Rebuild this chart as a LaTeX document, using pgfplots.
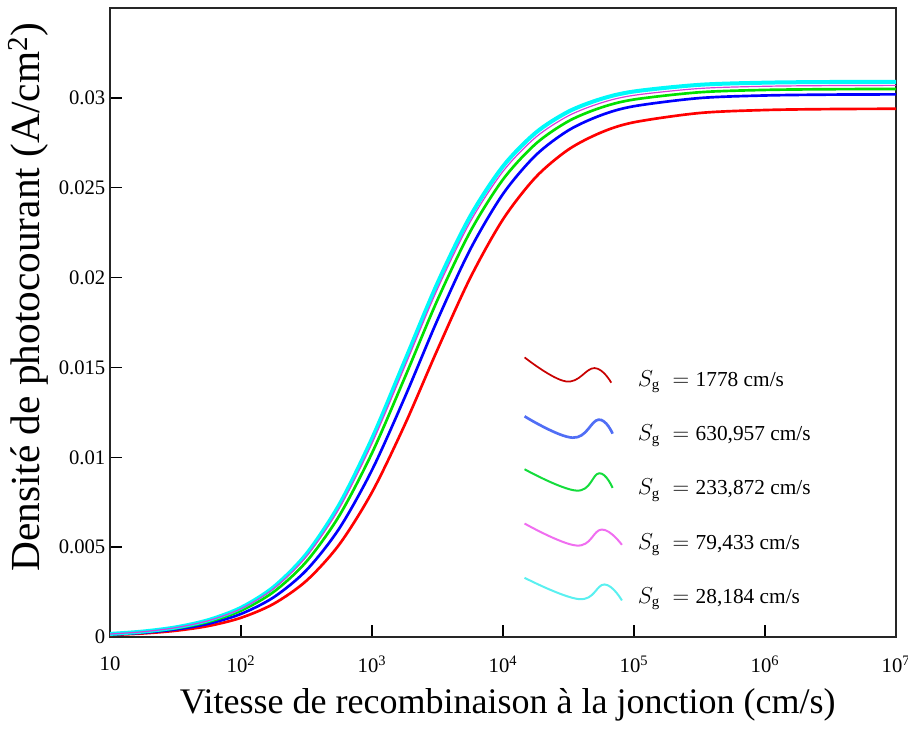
\documentclass[border=0pt]{standalone}
\usepackage{pgfplots}
\pgfplotsset{compat=1.18}
\usepackage{fontspec}
\setmainfont{Liberation Serif}

\definecolor{cRed}{RGB}{255,0,0}
\definecolor{cBlue}{RGB}{0,0,255}
\definecolor{cGreen}{RGB}{0,225,0}
\definecolor{cMag}{RGB}{215,60,215}
\definecolor{cCyan}{RGB}{0,250,250}
\definecolor{lRed}{RGB}{200,0,0}
\definecolor{lBlue}{RGB}{80,110,245}
\definecolor{lGreen}{RGB}{20,220,60}
\definecolor{lMag}{RGB}{240,110,240}
\definecolor{lCyan}{RGB}{90,240,240}

% photocurrent density vs junction recombination velocity, one column per Sg
\pgfplotstableread{
Sf        red       blue      green     mag       cyan
10        0.000111  0.000134  0.000153  0.000165  0.000171
17.78     0.000196  0.000237  0.000271  0.000292  0.000302
31.62     0.000347  0.000419  0.000479  0.000516  0.000533
56.23     0.000611  0.000736  0.000842  0.000906  0.000936
100       0.001069  0.001285  0.001466  0.001574  0.001626
177.8     0.001849  0.002212  0.002513  0.002692  0.002778
316.2     0.003134  0.003721  0.004200  0.004481  0.004617
562.3     0.005146  0.006038  0.006746  0.007156  0.007355
1000      0.008055  0.009292  0.010235  0.010772  0.011036
1778      0.011806  0.013331  0.014430  0.015045  0.015355
3162      0.015995  0.017645  0.018756  0.019368  0.019691
5623      0.019983  0.021569  0.022557  0.023100  0.023407
10000     0.023241  0.024653  0.025459  0.025907  0.026186
17783     0.025587  0.026808  0.027444  0.027807  0.028060
31623     0.027127  0.028194  0.028703  0.029003  0.029236
56234     0.028077  0.029038  0.029463  0.029722  0.029941
100000    0.028641  0.029535  0.029908  0.030142  0.030354
316228    0.029156  0.029987  0.030310  0.030521  0.030725
1000000   0.029322  0.030132  0.030440  0.030643  0.030844
3162278   0.029375  0.030179  0.030481  0.030682  0.030882
10000000  0.029392  0.030193  0.030494  0.030694  0.030894
}\jdata

\newcommand{\Sg}{$S_{\mathrm{g}}\;=\;$}

\begin{document}
\begin{tikzpicture}
\begin{axis}[
    scale only axis, width=589.5pt, height=471.75pt,
    xmode=log, xmin=10, xmax=1e7, ymin=0, ymax=0.035,
    xtick={10,100,1000,10000,100000,1000000,10000000},
    xticklabels={10, 10\textsuperscript{2}, 10\textsuperscript{3}, 10\textsuperscript{4},
                 10\textsuperscript{5}, 10\textsuperscript{6}, 10\textsuperscript{7}},
    xminorticks=false,
    scaled y ticks=false,
    ytick={0,0.005,0.01,0.015,0.02,0.025,0.03},
    yticklabels={0,0.005,0.01,0.015,0.02,0.025,0.03},
    tick align=inside, xtick pos=left, ytick pos=left,
    major tick length=9pt,
    tick style={black, line width=1pt},
    axis line style={black!85, line width=1.5pt},
    tick label style={font=\fontsize{15.5}{17}\selectfont},
    xticklabel style={yshift=-11pt},
    xlabel={Vitesse de recombinaison à la jonction (cm/s)},
    ylabel={Densité de photocourant (A/cm\textsuperscript{2})},
    xlabel style={font=\fontsize{27}{30}\selectfont,
                  at={(axis description cs:0.506,-0.108)}, anchor=center},
    ylabel style={font=\fontsize{31}{34}\selectfont,
                  at={(axis description cs:-0.104,0.54)}, anchor=center},
    legend cell align=left,
    legend style={at={(0.5254,0.4531)}, anchor=north west, draw=none, fill=none,
                  inner sep=0pt, row sep=0pt, column sep=0pt,
                  font=\fontsize{16}{18}\selectfont},
]
\addplot[cRed,   line width=2pt, smooth, forget plot] table[x=Sf, y=red]   {\jdata};
\addplot[cBlue,  line width=2pt, smooth, forget plot] table[x=Sf, y=blue]  {\jdata};
\addplot[cGreen, line width=2pt, smooth, forget plot] table[x=Sf, y=green] {\jdata};
\addplot[cCyan,  line width=3pt, smooth, forget plot] table[x=Sf, y=cyan]  {\jdata};
\addplot[cMag,   line width=0.9pt, smooth, forget plot] table[x=Sf, y=mag] {\jdata};

\addlegendimage{legend image code/.code={
    \draw[lRed, line width=1.3pt] plot[smooth, tension=0.7] coordinates
      {(0pt,16.5pt) (31pt,-1.5pt) (52.5pt,8.5pt) (65pt,-2.5pt)};
    \path[draw=none, fill=none] (0pt,-20.35pt) rectangle (83pt,20.35pt);}}
\addlegendentry{\Sg 1778 cm/s}
\addlegendimage{legend image code/.code={
    \draw[lBlue, line width=2pt] plot[smooth, tension=0.7] coordinates
      {(0pt,13pt) (36pt,-3pt) (55.5pt,10.5pt) (66pt,0pt)};
    \path[draw=none, fill=none] (0pt,-20.35pt) rectangle (83pt,20.35pt);}}
\addlegendentry{\Sg 630,957 cm/s}
\addlegendimage{legend image code/.code={
    \draw[lGreen, line width=1.5pt] plot[smooth, tension=0.7] coordinates
      {(0pt,14pt) (39pt,-2pt) (56pt,11pt) (66pt,0pt)};
    \path[draw=none, fill=none] (0pt,-20.35pt) rectangle (83pt,20.35pt);}}
\addlegendentry{\Sg 233,872 cm/s}
\addlegendimage{legend image code/.code={
    \draw[lMag, line width=1.5pt] plot[smooth, tension=0.7] coordinates
      {(0pt,14pt) (39pt,-2.5pt) (58pt,9.5pt) (73pt,-2pt)};
    \path[draw=none, fill=none] (0pt,-20.35pt) rectangle (83pt,20.35pt);}}
\addlegendentry{\Sg 79,433 cm/s}
\addlegendimage{legend image code/.code={
    \draw[lCyan, line width=1.5pt] plot[smooth, tension=0.7] coordinates
      {(0pt,14pt) (41pt,-2pt) (60pt,9pt) (73pt,-3pt)};
    \path[draw=none, fill=none] (0pt,-20.35pt) rectangle (83pt,20.35pt);}}
\addlegendentry{\Sg 28,184 cm/s}
\end{axis}
\path (current axis.south west) ++(-82.5pt,-85.5pt) coordinate (bbA);
\path (current axis.north east) ++(9pt,6pt) coordinate (bbB);
\pgfresetboundingbox
\path[use as bounding box] (bbA) rectangle (bbB);
\end{tikzpicture}
\end{document}
